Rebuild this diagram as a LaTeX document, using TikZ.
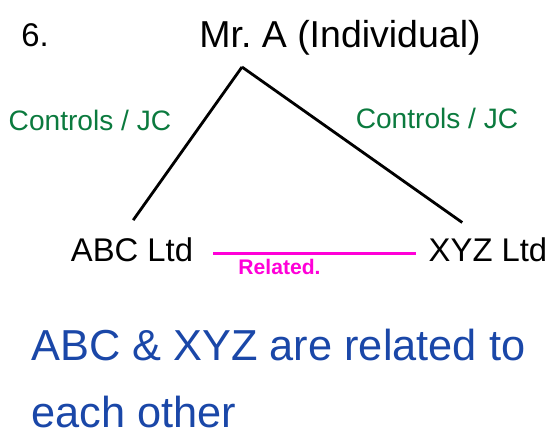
\documentclass[tikz,border=0pt]{standalone}
\usepackage{fontspec}
\setmainfont{Liberation Sans}
\usetikzlibrary{positioning}
\definecolor{relgreen}{HTML}{0B7A3E}
\definecolor{relpink}{HTML}{FF00D8}
\definecolor{relblue}{HTML}{1A47A8}
\tikzset{
  party/.style   = {font=\fontsize{28}{32}\selectfont, inner sep=1pt},
  ctrllabel/.style = {font=\fontsize{24}{28}\selectfont, text=relgreen, inner sep=1pt},
  tie/.style     = {line width=2.4pt, draw=black},
  reltie/.style  = {line width=2.4pt, color=relpink},
  note/.style    = {font=\fontsize{37}{42}\selectfont, text=relblue, inner sep=1pt},
}
\begin{document}
\begin{tikzpicture}[x=0.03cm, y=-0.03cm]
        \useasboundingbox (0,0) rectangle (553,438);
        \node[party] (num) at (35,35) {6.};
        \node[party, font=\fontsize{32}{36}\selectfont] (mra) at (340,38) {Mr.\ A (Individual)};
        \coordinate (apex) at (242,67);
        \node[party] (abc) at (132,250) {ABC Ltd};
        \node[party] (xyz) at (488,250) {XYZ Ltd};
        \node[ctrllabel] (ctrlL) at (90,120) {Controls / JC};
        \node[ctrllabel] (ctrlR) at (437,118) {Controls / JC};
        \draw[tie] (apex) -- ([xshift=1pt,yshift=14pt]abc.north);
        \draw[tie] (apex) -- ([xshift=-22pt,yshift=12pt]xyz.north);
        \draw[reltie] ([xshift=16pt,yshift=-3pt]abc.east) -- ([xshift=-10pt,yshift=-3pt]xyz.west);
        \node[font=\bfseries\fontsize{18}{21}\selectfont, text=relpink, below=4pt of abc.east, anchor=north west, xshift=34pt] (rel) {Related.};
        \node[note, anchor=west] (note1) at (30,345) {ABC \& XYZ are related to};
        \node[note, anchor=west] (note2) at (30,412) {each other};
    \end{tikzpicture}
\end{document}
